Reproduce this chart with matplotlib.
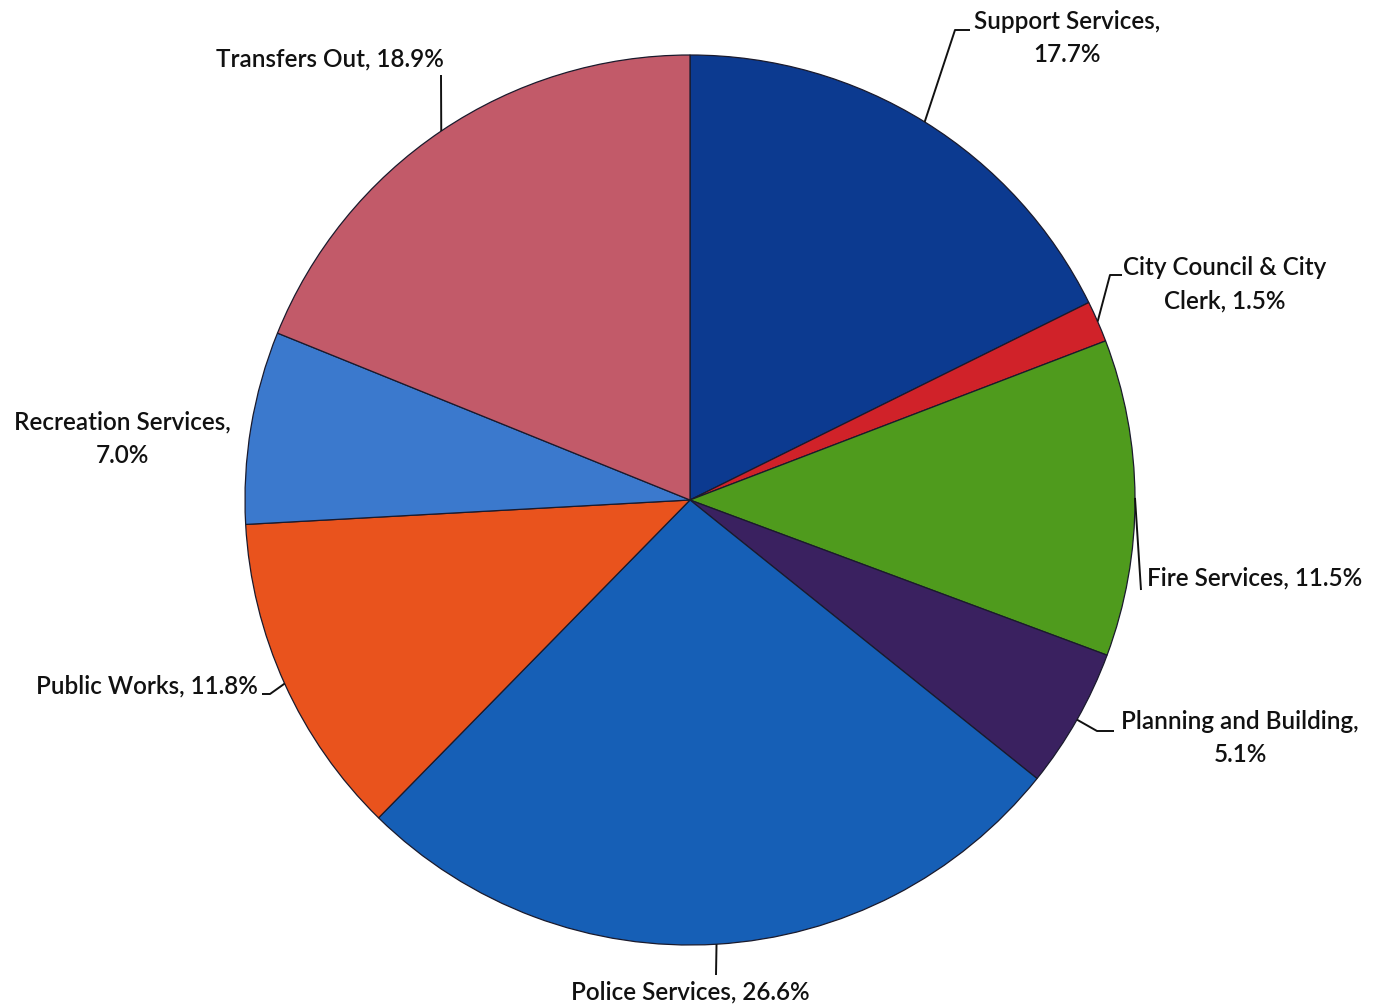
import matplotlib
matplotlib.use('Agg')
import matplotlib.pyplot as plt
import numpy as np

plt.rcParams['font.family'] = ['Lato', 'DejaVu Sans']

# Доли расходов бюджета, по часовой стрелке от 12 часов
departments = ['Support Services', 'City Council & City Clerk', 'Fire Services',
               'Planning and Building', 'Police Services', 'Public Works',
               'Recreation Services', 'Transfers Out']
shares = [17.7, 1.5, 11.5, 5.1, 26.6, 11.8, 7.0, 18.9]
label_texts = ['Support Services,\n17.7%', 'City Council & City\nClerk, 1.5%',
               'Fire Services, 11.5%', 'Planning and Building,\n5.1%',
               'Police Services, 26.6%', 'Public Works, 11.8%',
               'Recreation Services,\n7.0%', 'Transfers Out, 18.9%']
colors = ['#0c3a90', '#d02229', '#4f9b1d', '#3a2160',
          '#165fb6', '#e9531d', '#3b79cd', '#c25a69']

W, H = 1379, 1008
CX, CY, R = 690, 508, 445

# Размещение подписей (x, y в пикселях от верхнего левого угла), выравнивание,
# излом выноски (None — без выноски)
label_pos = [
    (1067, 38, 'center', [(955, 30), (970, 30)]),
    (1225, 284, 'center', [(1110, 275), (1122, 275)]),
    (1147, 578, 'left', [(1141, 590)]),
    (1240, 738, 'center', [(1097, 731), (1114, 731)]),
    (690, 992, 'center', [(716, 975)]),
    (258, 686, 'right', [(270, 694), (262, 694)]),
    (122, 439, 'center', None),
    (330, 59, 'center', [(441, 75)]),
]


def px(x, y):
    return x, H - y


fig = plt.figure(figsize=(W / 100, H / 100), dpi=100)
ax = fig.add_axes([0, 0, 1, 1])

wedges, _ = ax.pie(shares, colors=colors, startangle=90, counterclock=False,
                   center=(CX, CY), radius=R, normalize=True,
                   wedgeprops=dict(edgecolor='#1a1a2c', linewidth=0.9))

for w, text, (lx, ly, ha, knee) in zip(wedges, label_texts, label_pos):
    ax.text(*px(lx, ly), text, ha=ha, va='center', fontsize=17.5,
            fontweight='semibold', color='#111111', linespacing=1.55)
    if knee is None:
        continue
    # Выноска начинается на краю сектора, в середине его дуги
    mid = np.deg2rad((w.theta1 + w.theta2) / 2)
    xs = [CX + R * np.cos(mid)] + [k[0] for k in knee]
    ys = [CY + R * np.sin(mid)] + [H - k[1] for k in knee]
    ax.plot(xs, ys, color='#111111', linewidth=1.4, solid_capstyle='butt')

ax.set_xlim(0, W)
ax.set_ylim(0, H)
ax.set_aspect('equal')
ax.axis('off')

plt.savefig('out.png', dpi=100)
plt.close(fig)
